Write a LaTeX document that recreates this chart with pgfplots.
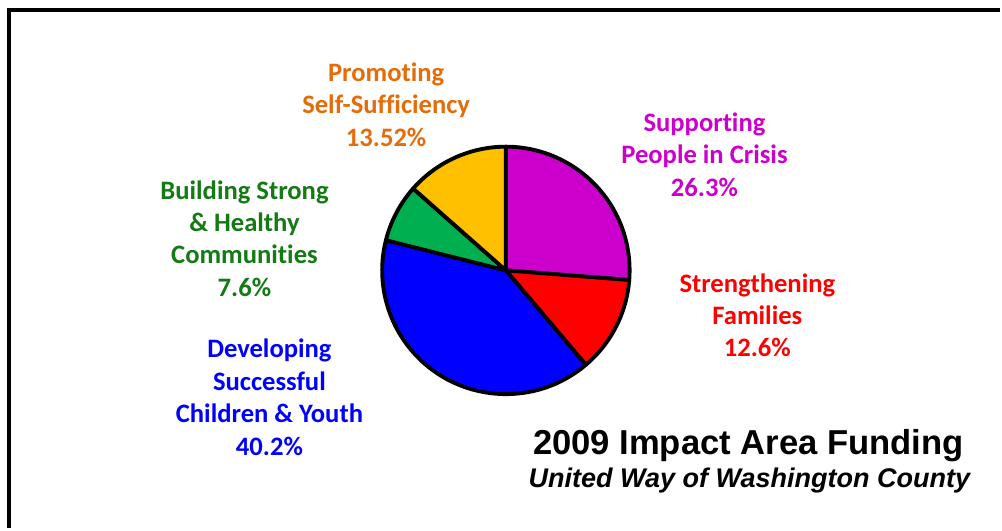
\documentclass[border=0pt]{standalone}
\usepackage{pgfplots}
\pgfplotsset{compat=1.18}
\usepackage{fontspec}
\setmainfont{Carlito}[Ligatures=NoCommon]
\newfontfamily\arial{Liberation Sans}

\definecolor{slMag}{RGB}{204,0,204}
\definecolor{slRed}{RGB}{255,0,0}
\definecolor{slBlue}{RGB}{0,0,255}
\definecolor{slGreen}{RGB}{0,176,80}
\definecolor{slOrange}{RGB}{255,192,0}
\definecolor{txOrange}{RGB}{228,108,10}
\definecolor{txGreen}{RGB}{20,122,20}

\tikzset{lbl/.style={font=\fontsize{20}{24.4}\selectfont\bfseries, align=center}}

% total of the shares (they add up to a bit over 100)
\def\T{100.22}
% #1 = share before this slice, #2 = share, #3 = fill colour
\newcommand\slice[3]{%
  \filldraw[fill=#3, draw=black, line width=2.9pt, line join=round]
    (axis cs:507,-271) -- ++({90-(#1/\T)*360}:93pt)
    arc[start angle={90-(#1/\T)*360}, delta angle={-(#2/\T)*360}, radius=93pt] -- cycle;}

\begin{document}
\begin{tikzpicture}
\begin{axis}[
    scale only axis, width=751.5pt, height=396.75pt,
    xmin=0, xmax=1002, ymin=-529, ymax=0,
    hide axis, clip=false
  ]
  \path (axis cs:0,0) rectangle (axis cs:1002,-529);
  % frame (top and left edge visible)
  \draw[line width=3.3pt] (axis cs:9,-529) -- (axis cs:9,-10) -- (axis cs:1002,-10);

  \slice{0}{26.3}{slMag}
  \slice{26.3}{12.6}{slRed}
  \slice{38.9}{40.2}{slBlue}
  \slice{79.1}{7.6}{slGreen}
  \slice{86.7}{13.52}{slOrange}

  \node[lbl, text=txOrange] at (axis cs:387,-105) {Promoting\\Self-Sufficiency\\13.52\%};
  \node[lbl, text=slMag] at (axis cs:706,-155) {Supporting\\People in Crisis\\26.3\%};
  \node[lbl, text=txGreen] at (axis cs:245,-239) {Building Strong\\\& Healthy\\Communities\\7.6\%};
  \node[lbl, text=slRed] at (axis cs:759,-316) {Strengthening\\Families\\12.6\%};
  \node[lbl, text=slBlue] at (axis cs:270,-398) {Developing\\Successful\\Children \& Youth\\40.2\%};

  \node[font=\arial\fontsize{26}{30}\selectfont\bfseries] at (axis cs:750,-447) {2009 Impact Area Funding};
  \node[font=\arial\fontsize{20.3}{24}\selectfont\bfseries\itshape] at (axis cs:751,-482) {United Way of Washington County};
\end{axis}
\end{tikzpicture}
\end{document}
